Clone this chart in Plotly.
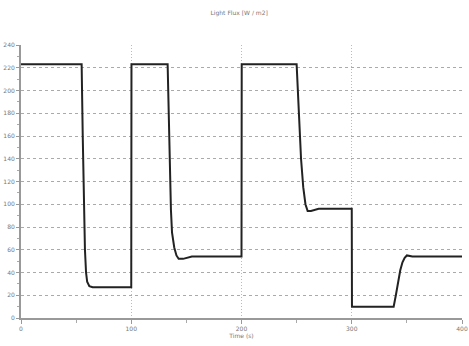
import plotly.graph_objects as go

time_s = [0, 55, 56, 57, 58, 59, 60, 62, 65, 100,
          100.2, 133, 134, 135, 136, 137, 139, 141, 143, 147, 155, 200,
          200.2, 250, 252, 254, 256, 258, 260, 263, 270, 300,
          300.2, 338, 340, 342, 344, 346, 348, 350, 355, 400]
flux = [223, 223, 160, 100, 60, 40, 32, 28, 27, 27,
        223, 223, 175, 130, 95, 75, 62, 55, 52, 52, 54, 54,
        223, 223, 180, 140, 115, 100, 94, 94, 96, 96,
        10, 10, 20, 32, 42, 49, 53, 55, 54, 54]

x_ticks = [0, 100, 200, 300, 400]
y_ticks = list(range(0, 241, 20))

fig = go.Figure()
fig.add_trace(go.Scatter(x=time_s, y=flux, mode="lines",
                         line=dict(color="#222222", width=2), showlegend=False))

fig.update_layout(
    width=469, height=346,
    margin=dict(l=21, r=7, t=45, b=28, autoexpand=False),
    paper_bgcolor="white", plot_bgcolor="white",
    font=dict(family="DejaVu Sans", size=6, color="#777777"),
    title=dict(text="Light Flux [W / m2]", x=0.51, xanchor="center", y=0.962, yanchor="middle",
               font=dict(size=6, color="#777777")),
)
fig.update_xaxes(range=[0, 400], tickvals=x_ticks, ticktext=[str(v) for v in x_ticks],
                 automargin=False,
                 showgrid=True, gridcolor="#bbbbbb", griddash="1px,2px", gridwidth=1,
                 showline=True, linecolor="#999999", linewidth=2,
                 ticks="outside", ticklen=4, tickcolor="#999999",
                 minor=dict(dtick=50, ticks="outside", ticklen=3, tickcolor="#aaaaaa", showgrid=False),
                 zeroline=False,
                 title=dict(text="Time (s)", standoff=2, font=dict(size=6, color="#777777")))
fig.update_yaxes(range=[0, 240], tickvals=y_ticks, ticktext=[str(v) for v in y_ticks],
                 automargin=False,
                 showgrid=True, gridcolor="#aaaaaa", griddash="3px,3px", gridwidth=1,
                 showline=True, linecolor="#999999", linewidth=2,
                 ticks="outside", ticklen=3, tickcolor="#999999",
                 minor=dict(dtick=10, ticks="outside", ticklen=2, tickcolor="#aaaaaa", showgrid=False),
                 zeroline=False)

fig.write_html("out.html", config={"displayModeBar": False},
               post_script="document.body.style.margin='0';document.body.style.overflow='hidden';")
